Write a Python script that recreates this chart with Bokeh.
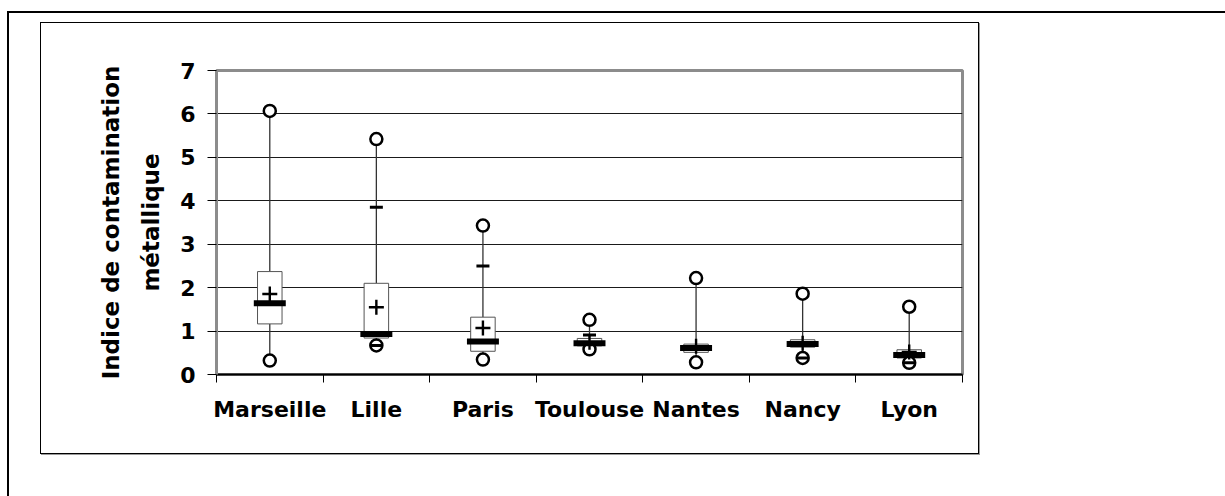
from bokeh.plotting import figure
from bokeh.models import (Range1d, LinearAxis, FixedTicker, Label, Grid, InlineStyleSheet)
from bokeh.embed import file_html
from bokeh.resources import INLINE

nan = float("nan")

# ---- data ----
cities = ["Marseille", "Lille", "Paris", "Toulouse", "Nantes", "Nancy", "Lyon"]
v_max = [6.07, 5.42, 3.43, 1.26, 2.22, 1.86, 1.56]
v_p90 = [nan, 3.85, 2.50, 0.91, nan, nan, nan]
v_q3 = [2.37, 2.10, 1.32, 0.83, 0.70, 0.80, 0.57]
v_median = [1.64, 0.935, 0.76, 0.72, 0.61, 0.70, 0.45]
v_mean = [1.855, 1.55, 1.07, 0.74, 0.65, 0.72, 0.52]
v_q1 = [1.165, 0.84, 0.535, 0.66, 0.51, 0.63, 0.38]
v_p10 = [nan, 0.67, nan, nan, nan, 0.38, 0.27]
v_min = [0.32, 0.67, 0.345, 0.58, 0.28, 0.38, 0.27]
y_ticks = [0, 1, 2, 3, 4, 5, 6, 7]
y_title = "Indice de contamination\nmétallique"
caption = "study areas"

FONT = "DejaVu Sans"
FS = "22px"

n = len(cities)
xc = [i + 0.5 for i in range(n)]          # category centres
edges = list(range(n + 1))                # category boundaries

frames_css = InlineStyleSheet(css="""
:host::before {
  content: ""; position: absolute; left: 40px; top: 22px;
  width: 939px; height: 432px; box-sizing: border-box;
  border: 1.5px solid #000; box-shadow: 1px 1px 0 #9a9a9a;
  pointer-events: none; z-index: 5;
}
:host::after {
  content: ""; position: absolute; left: 7px; top: 11px;
  width: 1218px; height: 485px; box-sizing: border-box;
  border-top: 2px solid #000; border-left: 2px solid #000;
  pointer-events: none; z-index: 5;
}
""")

p = figure(width=1225, height=496,
           x_range=Range1d(0, n), y_range=Range1d(0, 7),
           x_axis_location=None, y_axis_location=None,
           output_backend="svg", toolbar_location=None,
           min_border_left=216, min_border_right=263,
           min_border_top=70, min_border_bottom=122,
           stylesheets=[frames_css])
p.background_fill_color = "white"
p.border_fill_color = "white"
p.outline_line_color = "#8c8c8c"
p.outline_line_width = 3
for g in p.grid:
    g.visible = False

# horizontal grid
p.add_layout(Grid(dimension=1, ticker=FixedTicker(ticks=y_ticks[1:-1]),
                  grid_line_color="#1a1a1a", grid_line_width=1))

# y axis
yax = LinearAxis(ticker=FixedTicker(ticks=y_ticks), axis_label=y_title,
                 axis_line_color="#8c8c8c", axis_line_width=3,
                 major_tick_line_color="black", major_tick_line_width=1,
                 major_tick_out=9, major_tick_in=0,
                 minor_tick_out=0, minor_tick_in=0,
                 major_label_text_font=FONT, major_label_text_font_style="bold",
                 major_label_text_font_size=FS, major_label_text_color="black",
                 major_label_standoff=12,
                 axis_label_text_font=FONT, axis_label_text_font_style="bold",
                 axis_label_text_font_size="23px", axis_label_text_color="black",
                 axis_label_text_line_height=1.55,
                 axis_label_standoff=13)
p.add_layout(yax, "left")

# x tick axis at category boundaries
tax = LinearAxis(ticker=FixedTicker(ticks=edges),
                 major_label_overrides={e: "" for e in edges},
                 axis_line_color="black", axis_line_width=2,
                 major_tick_line_color="black", major_tick_line_width=1,
                 major_tick_out=8, major_tick_in=0,
                 minor_tick_out=0, minor_tick_in=0,
                 major_label_standoff=0, major_label_text_font_size="1px")
p.add_layout(tax, "below")

# category labels
cax = LinearAxis(ticker=FixedTicker(ticks=xc),
                 major_label_overrides={x: c for x, c in zip(xc, cities)},
                 axis_line_color=None, major_tick_line_color=None,
                 minor_tick_line_color=None,
                 major_label_text_font=FONT, major_label_text_font_style="bold",
                 major_label_text_font_size=FS, major_label_text_color="black",
                 major_label_standoff=8)
p.add_layout(cax, "below")

# whiskers
p.segment(x0=xc, y0=v_q3, x1=xc, y1=v_max, line_color="#333333", line_width=1.3)
p.segment(x0=xc, y0=v_q1, x1=xc, y1=v_min, line_color="#333333", line_width=1.3)
# boxes
p.vbar(x=xc, width=0.23, top=v_q3, bottom=v_q1, fill_color="white",
       line_color="#555555", line_width=1)
# min / max circles
for vals in (v_max, v_min):
    p.scatter(x=xc, y=vals, marker="circle", size=12, fill_color="white",
              line_color="black", line_width=2.5)
# median bars
p.rect(x=xc, y=v_median, width=0.30, height=6, height_units="screen",
       fill_color="black", line_color=None)
# percentile dashes
for vals in (v_p90, v_p10):
    p.scatter(x=xc, y=vals, marker="dash", size=13, line_color="black", line_width=3)
# means
p.scatter(x=xc, y=v_mean, marker="cross", size=15, line_color="black", line_width=2.4)

# cut-off caption above the chart, as in the source page
# (screen units: from frame left / frame bottom)
p.add_layout(Label(x=-11, y=370, x_units="screen", y_units="screen", text=caption,
                   text_font="Open Sans", text_font_size="24px", text_color="black",
                   text_baseline="alphabetic"))

open("out.html", "w").write(file_html(p, INLINE))
